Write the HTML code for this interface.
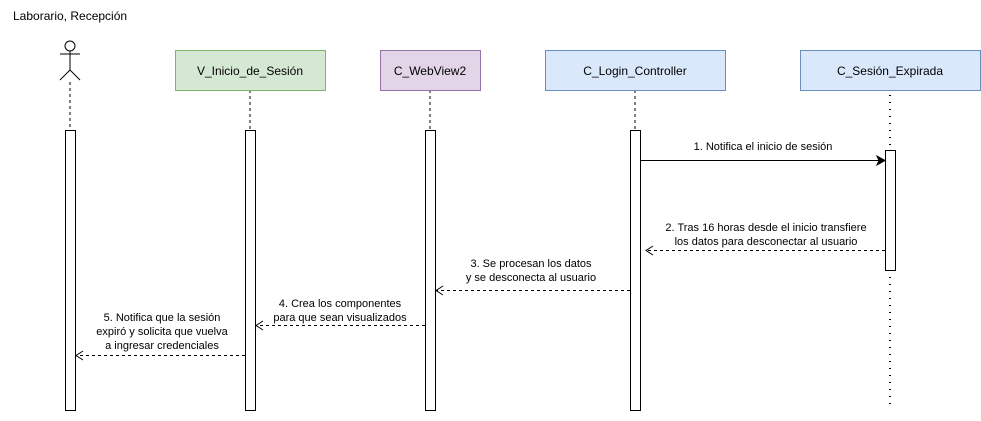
<!DOCTYPE html>
<html><head><meta charset="utf-8"><style>body{margin:0;background:#fff}svg{display:block}text{font-family:"Liberation Sans",sans-serif}</style></head><body>
<svg width="981" height="421" viewBox="0 0 981 421" xmlns="http://www.w3.org/2000/svg">
<text x="13" y="20" font-size="12">Laborario, Recepción</text>
<g stroke="#000" fill="none" stroke-width="1">
<circle cx="70" cy="46" r="5"/>
<line x1="70" y1="51" x2="70" y2="70"/>
<line x1="60" y1="54" x2="80" y2="54"/>
<line x1="70" y1="70" x2="60" y2="80"/><line x1="70" y1="70" x2="80" y2="80"/>
<g stroke-dasharray="3,3">
<line x1="70" y1="82" x2="70" y2="130"/>
<line x1="250" y1="90" x2="250" y2="130"/>
<line x1="430" y1="90" x2="430" y2="130"/>
<line x1="635" y1="90" x2="635" y2="130"/>
</g>
<line x1="890" y1="95" x2="890" y2="410" stroke-dasharray="1,6" stroke-width="2"/>
</g>
<rect x="175.5" y="50.5" width="150" height="40" fill="#d5e8d4" stroke="#82b366"/>
<rect x="380.5" y="50.5" width="100" height="40" fill="#e1d5e7" stroke="#9673a6"/>
<rect x="545.5" y="50.5" width="180" height="40" fill="#dae8fc" stroke="#6c8ebf"/>
<rect x="800.5" y="50.5" width="180" height="40" fill="#dae8fc" stroke="#6c8ebf"/>
<g font-size="12" text-anchor="middle">
<text x="250" y="75">V_Inicio_de_Sesión</text>
<text x="430" y="75">C_WebView2</text>
<text x="635" y="75">C_Login_Controller</text>
<text x="890" y="75">C_Sesión_Expirada</text>
</g>
<g fill="#fff" stroke="#000">
<rect x="65.5" y="130.5" width="10" height="280"/>
<rect x="245.5" y="130.5" width="10" height="280"/>
<rect x="425.5" y="130.5" width="10" height="280"/>
<rect x="630.5" y="130.5" width="10" height="280"/>
<rect x="885.5" y="150.5" width="10" height="120"/>
</g>
<g stroke="#000" fill="none">
<line x1="640" y1="160.5" x2="880" y2="160.5"/>
<path d="M877 156 L885 160.5 L877 165 L879 160.5 Z" fill="#000"/>
<g stroke-dasharray="3,3">
<line x1="885" y1="250.5" x2="646" y2="250.5"/>
<line x1="630" y1="290.5" x2="436" y2="290.5"/>
<line x1="425" y1="325.5" x2="256" y2="325.5"/>
<line x1="245" y1="355.5" x2="76" y2="355.5"/>
</g>
<path d="M653 246 L646 250.5 L653 255"/>
<path d="M443 286 L436 290.5 L443 295"/>
<path d="M263 321 L256 325.5 L263 330"/>
<path d="M83 351 L76 355.5 L83 360"/>
</g>
<g font-size="11" text-anchor="middle">
<text x="763" y="150">1. Notifica el inicio de sesión</text>
<text x="766" y="231">2. Tras 16 horas desde el inicio transfiere</text>
<text x="766" y="245">los datos para desconectar al usuario</text>
<text x="531" y="267">3. Se procesan los datos</text>
<text x="531" y="281">y se desconecta al usuario</text>
<text x="340" y="307">4. Crea los componentes</text>
<text x="340" y="321">para que sean visualizados</text>
<text x="162" y="321">5. Notifica que la sesión</text>
<text x="162" y="335">expiró y solicita que vuelva</text>
<text x="162" y="349">a ingresar credenciales</text>
</g>
</svg>
</body></html>
